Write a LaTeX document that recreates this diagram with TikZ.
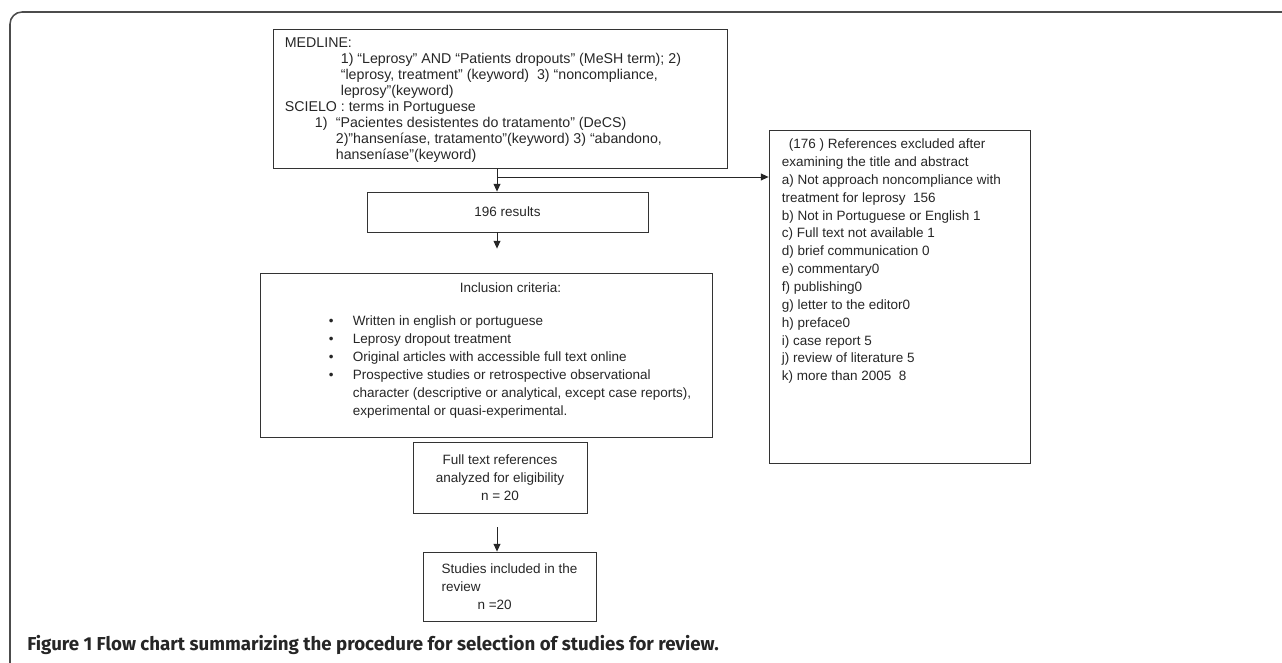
\documentclass[tikz,border=0pt]{standalone}
\usepackage{fontspec}
\setmainfont{Liberation Sans}
\newfontfamily\capfont{Fira Sans}
\usetikzlibrary{arrows.meta}
\newlength\pixel
\setlength\pixel{0.025cm}
\newcommand\bul{\makebox[24\pixel][l]{\textbullet}}

\begin{document}
\begin{tikzpicture}[x=0.025cm, y=-0.025cm,
		box/.style={draw=black!80, line width=0.6pt},
		boxsize/.style 2 args={minimum width=#1*0.025cm, minimum height=#2*0.025cm},
		txt/.style={inner sep=0pt, align=left, text=black!85, font=\fontsize{9.6}{12.7}\selectfont},
		arrow/.style={-{Triangle[length=1.9mm, width=1.7mm]}, draw=black!85, line width=0.6pt},
		frame/.style={draw=black!70, line width=1.1pt, rounded corners=0.3cm} ]
	\useasboundingbox (0,0) rectangle (1282,663);
	\draw[frame] (10,663) |- (1282,12);

	\node [box, boxsize={454}{139}] (search) at (500,99) {};
	\node [txt, anchor=north west, font=\fontsize{10.1}{11.4}\selectfont] (searchtxt) at ([shift={(12,8)}]search.north west) {
		MEDLINE:\\
		\hspace*{56\pixel}1) “Leprosy” AND “Patients dropouts” (MeSH term); 2)\\
		\hspace*{56\pixel}“leprosy, treatment” (keyword)\ \ 3) “noncompliance,\\
		\hspace*{56\pixel}leprosy”(keyword)\\
		SCIELO : terms in Portuguese\\
		\hspace*{30\pixel}\makebox[21\pixel][l]{1)}“Pacientes desistentes do tratamento” (DeCS)\\
		\hspace*{51\pixel}2)”hanseníase, tratamento”(keyword) 3) “abandono,\\
		\hspace*{51\pixel}hanseníase”(keyword)};

	\node [box, boxsize={281}{40}, txt, align=center] (results) at (507.5,212) {196 results};

	\node [box, boxsize={452}{164}] (incl) at (486,355) {};
	\node [txt, anchor=north west, font=\fontsize{9.6}{12.8}\selectfont] (incltxt) at ([shift={(69,10)}]incl.north west) {
		\hspace*{131\pixel}Inclusion criteria:\\[15\pixel]
		\bul Written in english or portuguese\\
		\bul Leprosy dropout treatment\\
		\bul Original articles with accessible full text online\\
		\bul Prospective studies or retrospective observational\\
		\hspace*{24\pixel}character (descriptive or analytical, except case reports),\\
		\hspace*{24\pixel}experimental or quasi-experimental.};

	\node [box, boxsize={174}{71}, txt, align=center] (fulltext) at (500,477.5) {Full text references\\analyzed for eligibility\\n = 20};
	\node [box, boxsize={173}{69}, txt] (studies) at (509.5,586.5) {Studies included in the\\review\\\hspace*{36\pixel}n =20};

	\node [box, boxsize={261}{333}] (excl) at (899.5,296.5) {};
	\node [txt, anchor=north west] (excltxt) at ([shift={(13,9)}]excl.north west) {
		\hspace*{7\pixel}(176 ) References excluded after\\
		examining the title and abstract\\
		a) Not approach noncompliance with\\
		treatment for leprosy\ \ 156\\
		b) Not in Portuguese or English 1\\
		c) Full text not available 1\\
		d) brief communication 0\\
		e) commentary0\\
		f) publishing0\\
		g) letter to the editor0\\
		h) preface0\\
		i) case report 5\\
		j) review of literature 5\\
		k) more than 2005\ \ 8};

	\coordinate (split) at (497,177);
	\draw[arrow] (search.south -| split) -- (results.north -| split);
	\draw[arrow] (split) -- (split -| excl.west);
	\draw[arrow, shorten >=0.6cm] (results.south -| split) -- (incl.north -| split);
	\draw[arrow, shorten <=0.35cm] (fulltext.south -| split) -- (studies.north -| split);

	\node [anchor=base west, inner sep=0pt, text=black!85, font=\capfont\bfseries\fontsize{13.3}{16}\selectfont] (caption) at (27,650)
		{Figure 1 Flow chart summarizing the procedure for selection of studies for review.};
\end{tikzpicture}
\end{document}
